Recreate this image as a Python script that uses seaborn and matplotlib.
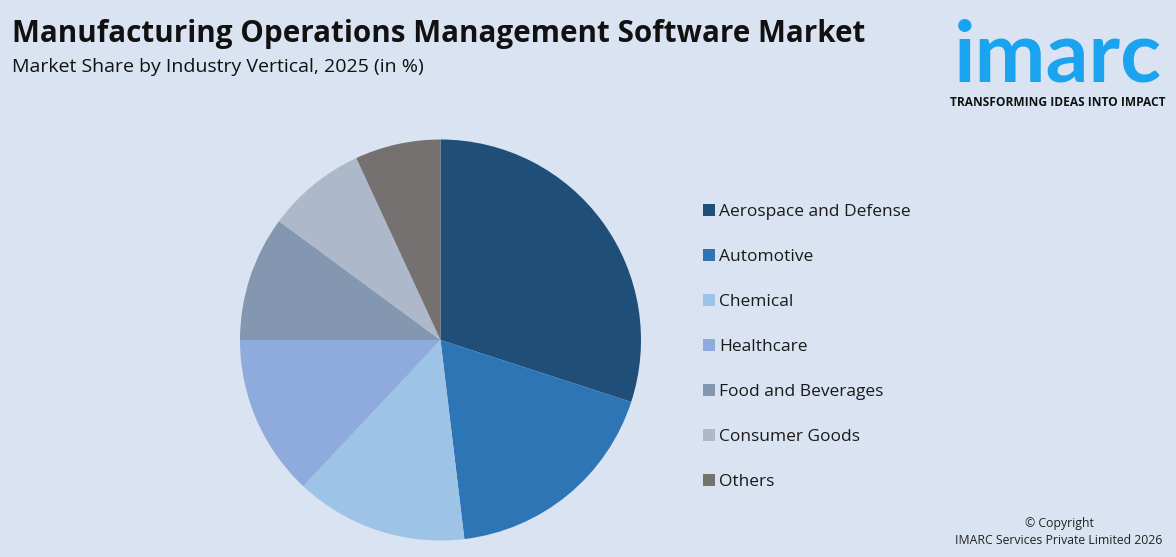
import matplotlib.pyplot as plt
import seaborn as sns

# Data
verticals = [
    "Aerospace and Defense",
    "Automotive",
    "Chemical",
    "Healthcare",
    "Food and Beverages",
    "Consumer Goods",
    "Others",
]
shares = [30.0, 18.1, 13.9, 13.0, 10.1, 8.0, 6.9]
colors = ["#1f4e79", "#2e75b6", "#9dc3e6", "#8faadc", "#8497b0", "#adb9ca", "#767171"]

BG = "#dae3f1"


def main() -> None:
    sns.set_theme(style="white")
    plt.rcParams["font.family"] = ["Open Sans", "DejaVu Sans"]

    fig = plt.figure(figsize=(11.76, 5.57), dpi=100, facecolor=BG)
    W, H = 1176, 557

    # pie centred at (440, 340) px, radius 200 px
    cx, cy, r = 440.5, 340, 200.5
    ax = fig.add_axes([(cx - r) / W, (H - cy - r) / H, 2 * r / W, 2 * r / H])
    ax.set_facecolor(BG)
    palette = sns.color_palette(colors)
    wedges, _ = ax.pie(
        shares,
        colors=palette,
        startangle=90,
        counterclock=False,
        radius=1,
        wedgeprops={"linewidth": 0},
    )
    ax.set_xlim(-1, 1)
    ax.set_ylim(-1, 1)
    ax.set_aspect("equal")
    ax.axis("off")

    leg = fig.legend(
        wedges,
        verticals,
        loc="upper left",
        bbox_to_anchor=(696 / W, 1 - 197 / H),
        frameon=False,
        fontsize=12.5,
        handlelength=0.7,
        handleheight=0.7,
        handletextpad=0.25,
        labelspacing=1.66,
        borderaxespad=0,
    )
    for t in leg.get_texts():
        t.set_color("#1a1a1a")

    # titles
    fig.text(12 / W, 1 - 34 / H, "Manufacturing Operations Management Software Market",
             fontsize=21.3, fontweight="bold", color="#111111", va="center", ha="left")
    fig.text(12 / W, 1 - 67 / H, "Market Share by Industry Vertical, 2025 (in %)",
             fontsize=14, color="#111111", va="center", ha="left")

    # logo
    fig.text(1058 / W, 1 - 81 / H, "imarc", fontsize=61, fontweight="bold",
             color="#1aa3ef", va="baseline", ha="center", family=["Lato", "DejaVu Sans"])
    fig.text(1058 / W, 1 - 103 / H, "TRANSFORMING IDEAS INTO IMPACT", fontsize=8.6,
             fontweight="bold", color="#111111", va="center", ha="center")

    # copyright
    fig.text(1059 / W, 1 - 523 / H, "© Copyright", fontsize=8.8, color="#222222",
             va="center", ha="center")
    fig.text(1059 / W, 1 - 541 / H, "IMARC Services Private Limited 2026", fontsize=8.8,
             color="#222222", va="center", ha="center")

    fig.savefig("out.png", dpi=100, facecolor=BG)


if __name__ == "__main__":
    main()
